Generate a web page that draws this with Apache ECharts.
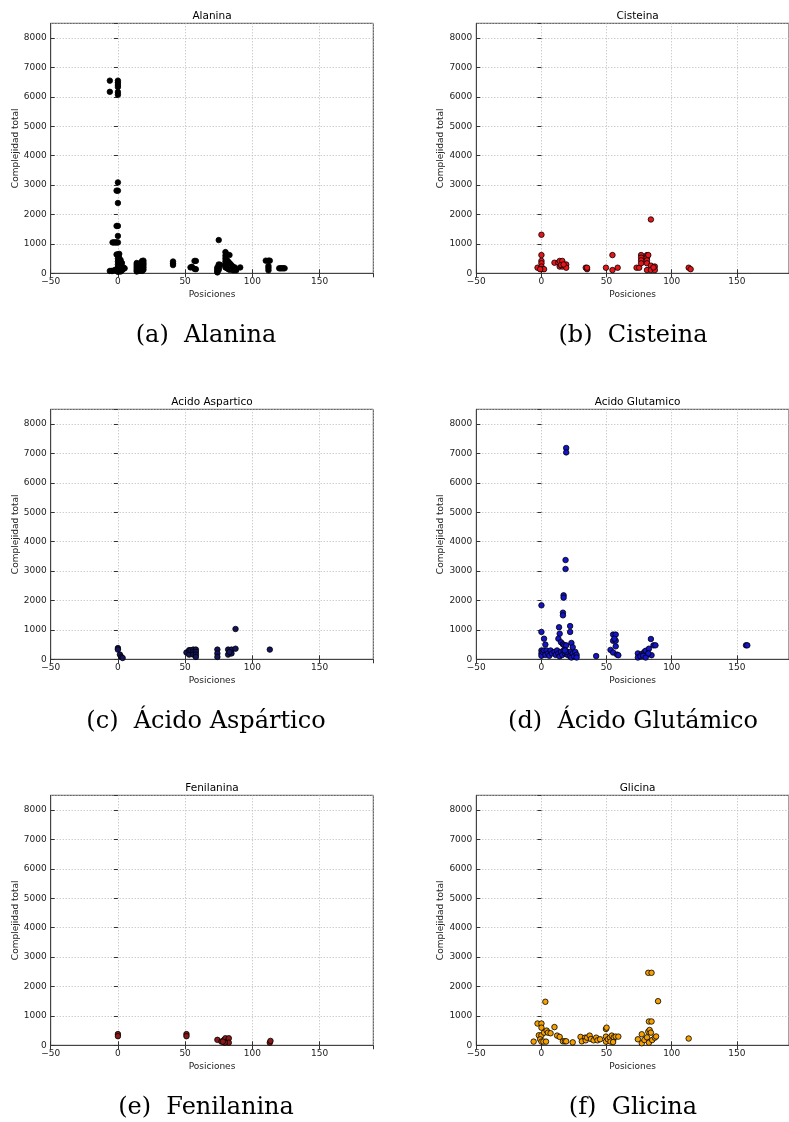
<!DOCTYPE html>
<html>
<head>
<meta charset="utf-8">
<script src="https://cdn.jsdelivr.net/npm/echarts@6/dist/echarts.min.js"></script>
<style>
html,body{margin:0;padding:0;background:#fff;}
#c{width:789px;height:1122px;}
</style>
</head>
<body>
<div id="c"></div>
<script>
// ---- data ----
const titles = ["Alanina", "Cisteina", "Acido Aspartico", "Acido Glutamico", "Fenilanina", "Glicina"];
const captions = ["(a)  Alanina", "(b)  Cisteina", "(c)  Ácido Aspártico", "(d)  Ácido Glutámico", "(e)  Fenilanina", "(f)  Glicina"];
const colors = ["#000000", "#e8141a", "#14145a", "#1414c8", "#8a1a1a", "#f5a000"];
const xTicks = [-50, 0, 50, 100, 150];
const yTicks = [0, 1000, 2000, 3000, 4000, 5000, 6000, 7000, 8000];

const alanina = [
 [-6,6550],[-6,6170],[-6,80],[-5,80],[-4,1050],[-4,80],[-3,1050],[-2,1050],[-2,120],
 [0,6550],[0,6480],[0,6400],[0,6330],[0,6160],[0,6070],[0,3090],[0,2810],[0,2390],[0,1610],[0,1270],[0,1050],[0,640],[0,500],[0,400],[0,300],[0,200],[0,150],[0,100],[0,50],
 [-1,2810],[-1,1610],[-1,1050],[-1,640],[-1,100],
 [1,660],[1,520],[1,380],[1,250],[1,120],[2,450],[2,300],[2,180],[2,60],[3,350],[3,200],[3,100],[4,200],[4,150],[5,170],
 [14,350],[14,300],[14,250],[14,200],[14,150],[14,100],[14,60],[15,320],[15,250],[15,180],[15,120],[15,80],
 [16,280],[16,200],[16,140],[16,90],[17,350],[17,250],[17,180],[17,100],
 [18,420],[18,380],[18,300],[18,220],[18,150],[18,80],[19,430],[19,350],[19,280],[19,200],[19,120],
 [41,400],[41,330],[41,280],[54,200],[55,220],[57,420],[57,150],[58,420],[58,140],
 [74,200],[74,150],[74,100],[74,60],[74,30],[75,1130],[75,300],[75,250],[75,180],[75,120],[76,290],
 [80,720],[80,600],[80,500],[80,400],[80,300],[80,250],[80,200],[81,650],[81,450],[81,350],[81,280],[81,180],
 [82,400],[82,300],[82,250],[82,150],[83,620],[83,350],[83,220],[83,120],[84,300],[84,200],[84,150],
 [85,250],[85,120],[86,200],[86,100],[87,200],[87,150],[88,100],[91,200],
 [110,430],[112,430],[112,250],[112,180],[112,100],[113,430],
 [120,170],[121,170],[122,170],[123,170],[124,170]
];
const cisteina = [
 [-3,190],[0,1310],[0,620],[0,420],[0,340],[0,230],[0,140],[2,140],[-1,140],
 [10,360],[13,360],[14,420],[14,230],[16,420],[16,230],[19,300],[19,190],[15,280],[17,300],
 [34,190],[35,140],[35,190],[49.5,190],[54.5,620],[54.5,110],[58.5,190],
 [73,190],[75,190],[76.5,620],[76.5,530],[76.5,440],[76.5,340],
 [81,620],[81,530],[81,440],[81,340],[81,110],[82,620],[84,1830],[84,260],[84,110],[87,230],[87,110],[86,200],
 [113,190],[114.5,140]
];
const aspartico = [
 [0,380],[0,330],[1.5,160],[2.5,80],[3.5,45],
 [51,230],[53,310],[53,160],[54,310],[56,330],[56,250],[56,160],[58,330],[58,250],[58,160],[58,80],
 [74,330],[74,200],[74,80],[82,330],[82,160],[84.5,330],[84.5,200],[83,250],
 [87.5,1030],[87.5,360],[113,330]
];
const glutamico = [
 [19,7185],[19,7035],[18.5,3375],[18.5,3070],[17,2175],[17,2095],[16.5,1585],[16.5,1495],
 [0,1835],[0,930],[2,700],[3,500],
 [13.5,1090],[14,870],[13,700],[15,580],[16.5,510],[17.5,475],[19,475],[22,1130],[22,930],[23,555],[24,410],
 [0,300],[0,200],[0,120],[1,250],[2,300],[3,150],[4,300],[5,200],[6,120],[7,300],[8,200],
 [10,250],[11,150],[12,300],[13,200],[14,100],[15,250],[16,150],[17,300],[18,200],[19,280],[20,150],
 [22,250],[22,100],[23,60],[24,200],[25,100],[26,250],[27,150],[27,60],[19,250],[18,300],
 [42,110],[53,320],[55,230],[55,840],[55,630],[57,840],[57,630],[56,700],[57,440],[58,160],[59,140],
 [74,200],[74,60],[77,180],[79,250],[80,290],[81.5,160],[82.5,360],[84,690],[84.5,140],[86,475],[87.5,475],
 [76,100],[78,120],[80,60],[82,200],
 [157,475],[158,475]
];
const fenilanina = [
 [0,380],[0,310],[51,380],[51,310],
 [74,185],[77,125],[79,185],[80,240],[81,125],[82.5,240],[82.5,90],[79.5,90],[78,125],
 [113,90],[113.5,150]
];
const glicina = [
 [-6,125],[-3,740],[0,740],[0,600],[-2,340],[0,340],[-1,205],[0,125],[1.5,125],[3.5,125],
 [3,1480],[2,430],[4,500],[5,430],[7,410],[10,620],[12,330],[14,285],
 [16.5,135],[18,135],[19,135],[24,100],
 [30,285],[31,135],[33.5,260],[34,170],[35,260],[37,330],[38,215],[40,170],[42,260],[43,170],[45,205],
 [49.5,555],[50,600],[49.5,295],[49.5,125],[51,205],[52.5,260],[54,330],[55,170],[55.5,270],[57,295],[59,295],[53,125],[55,110],
 [74,205],[77,375],[77,70],[79,180],[81,270],[82,465],[83,520],[84,430],[82.5,90],[85,180],
 [82,2465],[84.5,2465],[89.5,1500],[82.5,810],[84.5,810],[87,260],[88,300],
 [113,230]
];
const seriesData = [alanina, cisteina, aspartico, glutamico, fenilanina, glicina];

// ---- layout ----
const colLeft = [50.7, 476.3];
const rowTop = [23.3, 409.3, 795.3];
const plotW = 322.6, plotH = 250;
const capX = [206, 633];

const grids = [], xAxes = [], yAxes = [], series = [], graphics = [];
const fmtNum = v => String(v).replace('-', '\u2212');
const gridLine = {show: true, lineStyle: {color: '#b8b8b8', type: [1, 2], width: 1}};
const tickStyle = {show: true, inside: true, length: 4, lineStyle: {color: '#333'}};
const labFont = 9;

for (let i = 0; i < 6; i++) {
  const c = i % 2, r = Math.floor(i / 2);
  const left = colLeft[c], top = rowTop[r];
  grids.push({left: left, top: top, width: plotW, height: plotH, show: true, borderColor: '#444', borderWidth: 1, backgroundColor: 'transparent'});
  xAxes.push({
    type: 'value', gridIndex: i, min: -50, max: 190, interval: 50,
    name: 'Posiciones', nameLocation: 'middle', nameGap: 16.5,
    nameTextStyle: {fontFamily: 'DejaVu Sans', fontSize: labFont, color: '#222'},
    axisLine: {show: true, onZero: false, lineStyle: {color: '#444'}},
    axisTick: tickStyle,
    axisLabel: {fontFamily: 'DejaVu Sans', fontSize: labFont, color: '#222', margin: 4, showMaxLabel: false, formatter: fmtNum},
    splitLine: gridLine
  });
  xAxes.push({
    type: 'value', gridIndex: i, min: -50, max: 190, interval: 50, position: 'top',
    axisLine: {show: false}, axisTick: tickStyle, axisLabel: {show: false}, splitLine: {show: false}
  });
  yAxes.push({
    type: 'value', gridIndex: i, min: 0, max: 8500, interval: 1000,
    name: 'Complejidad total', nameLocation: 'middle', nameGap: 29,
    nameTextStyle: {fontFamily: 'DejaVu Sans', fontSize: labFont, color: '#222'},
    axisLine: {show: true, onZero: false, lineStyle: {color: '#444'}},
    axisTick: tickStyle,
    axisLabel: {fontFamily: 'DejaVu Sans', fontSize: labFont, color: '#222', margin: 4, showMaxLabel: false, formatter: v => String(v)},
    splitLine: gridLine
  });
  yAxes.push({
    type: 'value', gridIndex: i, min: 0, max: 8500, interval: 1000, position: 'right',
    axisLine: {show: false}, axisTick: tickStyle, axisLabel: {show: false}, splitLine: {show: false}
  });
  series.push({
    type: 'scatter', xAxisIndex: 2 * i, yAxisIndex: 2 * i,
    data: seriesData[i], symbol: 'circle', symbolSize: 5.5,
    itemStyle: {color: colors[i], borderColor: '#000', borderWidth: 0.8, opacity: 1},
    animation: false
  });
  graphics.push({
    type: 'text', x: left + plotW / 2, y: top - 7.5,
    style: {text: titles[i], font: '10.5px "DejaVu Sans"', fill: '#000', textAlign: 'center', textVerticalAlign: 'middle'}
  });
  graphics.push({
    type: 'text', x: capX[c], y: top + 312,
    style: {text: captions[i], font: '24px "DejaVu Serif"', fill: '#000', textAlign: 'center', textVerticalAlign: 'middle'}
  });
}

const chart = echarts.init(document.getElementById('c'), null, {renderer: 'canvas'});
chart.setOption({
  animation: false,
  backgroundColor: '#fff',
  grid: grids, xAxis: xAxes, yAxis: yAxes, series: series, graphic: graphics
});
</script>
</body>
</html>
